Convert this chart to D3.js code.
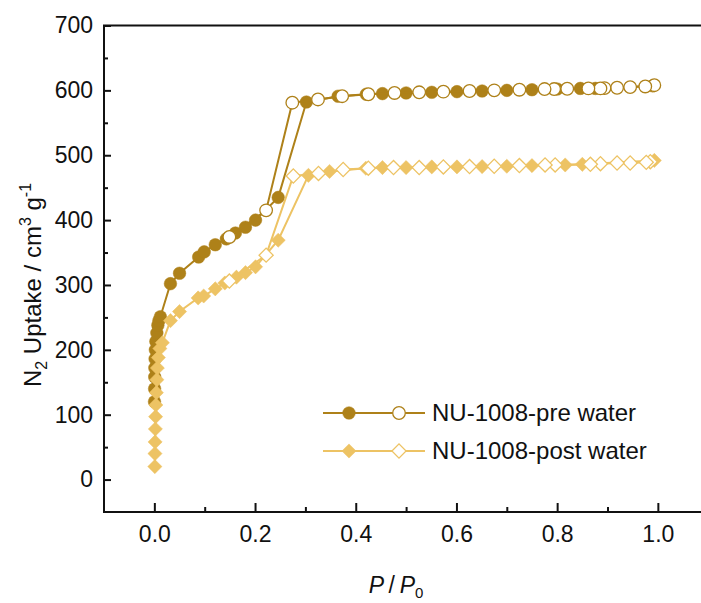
<!DOCTYPE html>
<html>
<head>
<meta charset="utf-8">
<script src="https://cdn.jsdelivr.net/npm/d3@7"></script>
<style>
  html, body { margin: 0; padding: 0; background: #fff; }
  svg { display: block; font-family: "Liberation Sans", Arial, sans-serif; }
</style>
</head>
<body>
<svg id="chart" width="701" height="603"></svg>
<script>
// ---- data ----
const preAdsP = [0.0003,0.0005,0.0008,0.001,0.0015,0.002,0.003,0.005,0.007,0.009,0.012,
  0.032,0.05,0.088,0.099,0.121,0.143,0.161,0.181,0.201,0.246,0.302,0.365,0.421,0.453,0.50,
  0.551,0.601,0.651,0.70,0.75,0.80,0.846,0.876,0.99];
const preAdsV = [120,140,158,172,186,200,213,226,238,245,251,
  302,318,343,351,362,371,380,389,400,435,582,591,594,595,596,
  597,598,599,600,601,602,603,603,607];
const preDesP = [0.993,0.975,0.945,0.919,0.894,0.886,0.862,0.82,0.794,0.775,0.725,0.675,0.626,
  0.574,0.526,0.477,0.425,0.373,0.325,0.274,0.222,0.149];
const preDesV = [608,606,605,604,603.5,603,603,602.5,602,602,601,600,599,
  598,597,596,594,591,586,581,415,374];

const postAdsP = [0.001,0.0012,0.0015,0.002,0.0025,0.003,0.004,0.005,0.006,0.008,0.011,0.016,
  0.032,0.05,0.087,0.098,0.121,0.14,0.163,0.181,0.201,0.246,0.306,0.348,0.42,0.453,0.50,
  0.551,0.601,0.651,0.70,0.75,0.816,0.85,0.993];
const postAdsV = [20,40,58,78,97,115,134,154,172,188,202,211,
  245,259,280,283,294,303,312,319,328,369,469,475,480,481,481,
  482,482,482.5,483,484,485,486,492];
const postDesP = [0.985,0.977,0.945,0.919,0.886,0.866,0.796,0.776,0.725,0.675,0.626,0.574,
  0.526,0.475,0.425,0.375,0.326,0.276,0.222,0.149];
const postDesV = [490,489,488,488,487,486,485,485,484,483,482.5,482,
  481,481,480,478,472,468,346,306];

const seriesNames = ["NU-1008-pre water", "NU-1008-post water"];
const xTicks = [0.0, 0.2, 0.4, 0.6, 0.8, 1.0];
const yTicks = [0, 100, 200, 300, 400, 500, 600, 700];

// ---- layout ----
const darkGold = "#AE8119";
const lightGold = "#EDC364";
const svg = d3.select("#chart");
const x = d3.scaleLinear().domain([-0.1, 1.1]).range([104, 708.2]);
const y = d3.scaleLinear().domain([-50, 700]).range([512, 25.5]);

// frame
svg.append("rect")
  .attr("x", x(-0.1)).attr("y", y(700))
  .attr("width", x(1.1) - x(-0.1)).attr("height", y(-50) - y(700))
  .attr("fill", "none").attr("stroke", "#111").attr("stroke-width", 2);

// x axis
const xAxis = d3.axisBottom(x).tickValues(xTicks).tickSize(-9).tickPadding(14)
  .tickFormat(d3.format(".1f"));
const gx = svg.append("g").attr("transform", `translate(0,${y(-50)})`).call(xAxis);
gx.select(".domain").remove();
gx.selectAll(".tick line").attr("stroke", "#111").attr("stroke-width", 2);
gx.selectAll(".tick text").attr("font-size", 23).attr("fill", "#111")
  .attr("font-family", "Liberation Sans, Arial, sans-serif");
const gxm = svg.append("g").attr("transform", `translate(0,${y(-50)})`)
  .call(d3.axisBottom(x).tickValues([0.1,0.3,0.5,0.7,0.9]).tickSize(-5).tickFormat(""));
gxm.select(".domain").remove();
gxm.selectAll(".tick line").attr("stroke", "#111").attr("stroke-width", 2);

// y axis
const yAxis = d3.axisLeft(y).tickValues(yTicks).tickSize(-7).tickPadding(11);
const gy = svg.append("g").attr("transform", `translate(${x(-0.1)},0)`).call(yAxis);
gy.select(".domain").remove();
gy.selectAll(".tick line").attr("stroke", "#111").attr("stroke-width", 2);
gy.selectAll(".tick text").attr("font-size", 23).attr("fill", "#111")
  .attr("font-family", "Liberation Sans, Arial, sans-serif");
const gym = svg.append("g").attr("transform", `translate(${x(-0.1)},0)`)
  .call(d3.axisLeft(y).tickValues([50,150,250,350,450,550,650]).tickSize(-4).tickFormat(""));
gym.select(".domain").remove();
gym.selectAll(".tick line").attr("stroke", "#111").attr("stroke-width", 2);

// axis titles
const xt = svg.append("text").attr("x", 396).attr("y", 593)
  .attr("text-anchor", "middle").attr("font-size", 23).attr("fill", "#111");
xt.append("tspan").attr("font-style", "italic").text("P");
xt.append("tspan").text("\u2009/\u2009");
xt.append("tspan").attr("font-style", "italic").text("P");
xt.append("tspan").attr("font-size", 15).attr("dy", 5).text("0");

const yt = svg.append("text")
  .attr("transform", "translate(41,285) rotate(-90)")
  .attr("text-anchor", "middle").attr("font-size", 24).attr("fill", "#111");
yt.append("tspan").text("N");
yt.append("tspan").attr("font-size", 16).attr("dy", 6).text("2");
yt.append("tspan").attr("dy", -6).text(" Uptake / cm");
yt.append("tspan").attr("font-size", 16).attr("dy", -10).text("3");
yt.append("tspan").attr("dy", 10).text(" g");
yt.append("tspan").attr("font-size", 16).attr("dy", -10).text("-1");

// ---- series ----
const zip = (ps, vs) => ps.map((p, i) => [p, vs[i]]);
const line = d3.line().x(d => x(d[0])).y(d => y(d[1]));
const circleSym = d3.symbol().type(d3.symbolCircle).size(Math.PI * 6.3 * 6.3);
const diamondSym = d3.symbol().type(d3.symbolSquare).size(10 * 10);

function drawSeries(data, color, filled, shape) {
  const g = svg.append("g");
  g.append("path").datum(data).attr("d", line)
    .attr("fill", "none").attr("stroke", color).attr("stroke-width", 2);
  g.selectAll("path.m").data(data).join("path").attr("class", "m")
    .attr("d", shape === "circle" ? circleSym : diamondSym)
    .attr("transform", d => `translate(${x(d[0])},${y(d[1])})` + (shape === "circle" ? "" : " rotate(45)"))
    .attr("fill", filled ? color : "#fff")
    .attr("stroke", color).attr("stroke-width", filled ? 0.5 : 1.3);
}

drawSeries(zip(preAdsP, preAdsV), darkGold, true, "circle");
drawSeries(zip(preDesP, preDesV), darkGold, false, "circle");
drawSeries(zip(postAdsP, postAdsV), lightGold, true, "diamond");
drawSeries(zip(postDesP, postDesV), lightGold, false, "diamond");

// ---- legend ----
const legend = [
  { name: seriesNames[0], color: darkGold, shape: "circle", yy: 413 },
  { name: seriesNames[1], color: lightGold, shape: "diamond", yy: 451 }
];
legend.forEach(L => {
  const g = svg.append("g");
  g.append("line").attr("x1", 323).attr("x2", 425).attr("y1", L.yy).attr("y2", L.yy)
    .attr("stroke", L.color).attr("stroke-width", 2);
  [[349, true], [399, false]].forEach(([cx, filled]) => {
    g.append("path")
      .attr("d", L.shape === "circle" ? circleSym : diamondSym)
      .attr("transform", `translate(${cx},${L.yy})` + (L.shape === "circle" ? "" : " rotate(45)"))
      .attr("fill", filled ? L.color : "#fff")
      .attr("stroke", L.color).attr("stroke-width", filled ? 0.5 : 1.3);
  });
  g.append("text").attr("x", 432).attr("y", L.yy).attr("dy", "0.35em")
    .attr("font-size", 24).attr("fill", "#111").text(L.name);
});
</script>
</body>
</html>
